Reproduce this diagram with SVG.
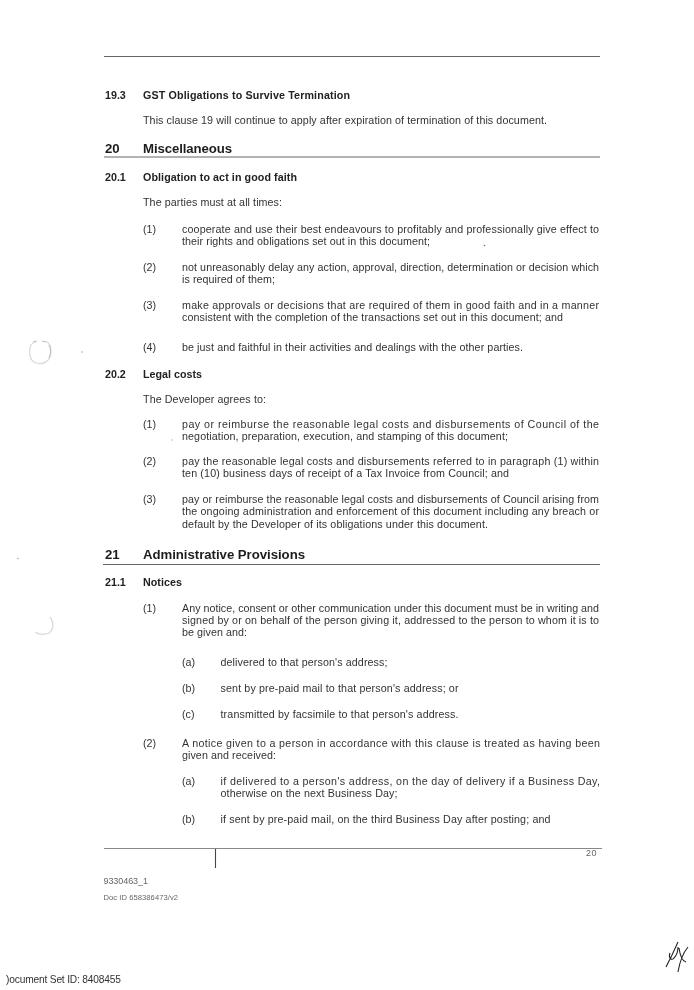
<svg xmlns="http://www.w3.org/2000/svg" width="694" height="990" viewBox="0 0 694 990">
<defs><style>
text{font-family:"Liberation Sans",Arial,sans-serif;font-size:10.7px;fill:#333}
.b{font-weight:bold;fill:#222}
.h{font-weight:bold;font-size:13.2px;fill:#1f1f1f}
.r{stroke:#666;stroke-width:1;fill:none}
.s{font-size:7.6px;fill:#666}
.f{font-size:9px;fill:#666}
.m{fill:none;stroke:#d8d8d8;stroke-width:1.2}
</style>
<filter id="soft" x="0" y="0" width="694" height="990" filterUnits="userSpaceOnUse"><feGaussianBlur stdDeviation="0.4"/></filter>
</defs>
<rect width="694" height="990" fill="#fff"/>
<g filter="url(#soft)">
<g id="rules">
<path class="r" d="M104 56.500H600"/>
<path class="r" d="M104 157H600"/>
<path class="r" d="M103 564.500H600"/>
<path class="r" style="stroke:#888" d="M104 848.500H602"/>
<path class="r" style="stroke:#444;stroke-width:1.1" d="M215.500 849V868"/>
</g>
<g id="clause-19-3">
<text class="b" x="105" y="99">19.3</text>
<text class="b" x="143" y="99" textLength="207">GST Obligations to Survive Termination</text>
<text x="143" y="124" textLength="404">This clause 19 will continue to apply after expiration of termination of this document.</text>
</g>
<g id="clause-20">
<text class="h" x="105" y="153">20</text>
<text class="h" x="143" y="153" textLength="89">Miscellaneous</text>
</g>
<g id="clause-20-1">
<text class="b" x="105" y="181">20.1</text>
<text class="b" x="143" y="181" textLength="154">Obligation to act in good faith</text>
<text x="143" y="206" textLength="139">The parties must at all times:</text>
<text x="143" y="233">(1)</text>
<text x="182" y="233" textLength="417">cooperate and use their best endeavours to profitably and professionally give effect to</text>
<text x="182" y="245" textLength="248">their rights and obligations set out in this document;</text>
<text x="143" y="271">(2)</text>
<text x="182" y="271" textLength="417">not unreasonably delay any action, approval, direction, determination or decision which</text>
<text x="182" y="283" textLength="93">is required of them;</text>
<text x="143" y="309">(3)</text>
<text x="182" y="309" textLength="417">make approvals or decisions that are required of them in good faith and in a manner</text>
<text x="182" y="321" textLength="381">consistent with the completion of the transactions set out in this document; and</text>
<text x="143" y="351">(4)</text>
<text x="182" y="351" textLength="341">be just and faithful in their activities and dealings with the other parties.</text>
</g>
<g id="clause-20-2">
<text class="b" x="105" y="377.500">20.2</text>
<text class="b" x="143" y="377.500" textLength="59">Legal costs</text>
<text x="143" y="403" textLength="123">The Developer agrees to:</text>
<text x="143" y="428">(1)</text>
<text x="182" y="428" textLength="417">pay or reimburse the reasonable legal costs and disbursements of Council of the</text>
<text x="182" y="440" textLength="326">negotiation, preparation, execution, and stamping of this document;</text>
<text x="143" y="465">(2)</text>
<text x="182" y="465" textLength="417">pay the reasonable legal costs and disbursements referred to in paragraph (1) within</text>
<text x="182" y="477" textLength="327">ten (10) business days of receipt of a Tax Invoice from Council; and</text>
<text x="143" y="503">(3)</text>
<text x="182" y="503" textLength="417">pay or reimburse the reasonable legal costs and disbursements of Council arising from</text>
<text x="182" y="515" textLength="417">the ongoing administration and enforcement of this document including any breach or</text>
<text x="182" y="528" textLength="306">default by the Developer of its obligations under this document.</text>
</g>
<g id="clause-21">
<text class="h" x="105" y="559">21</text>
<text class="h" x="143" y="559" textLength="162">Administrative Provisions</text>
</g>
<g id="clause-21-1">
<text class="b" x="105" y="586">21.1</text>
<text class="b" x="143" y="586" textLength="39">Notices</text>
<text x="143" y="612">(1)</text>
<text x="182" y="612" textLength="417">Any notice, consent or other communication under this document must be in writing and</text>
<text x="182" y="624" textLength="417">signed by or on behalf of the person giving it, addressed to the person to whom it is to</text>
<text x="182" y="636" textLength="65">be given and:</text>
<text x="182" y="665.500">(a)</text>
<text x="220.500" y="665.500" textLength="167">delivered to that person's address;</text>
<text x="182" y="692">(b)</text>
<text x="220.500" y="692" textLength="238">sent by pre-paid mail to that person's address; or</text>
<text x="182" y="718">(c)</text>
<text x="220.500" y="718" textLength="238">transmitted by facsimile to that person's address.</text>
<text x="143" y="747">(2)</text>
<text x="182" y="747" textLength="418">A notice given to a person in accordance with this clause is treated as having been</text>
<text x="182" y="759" textLength="94">given and received:</text>
<text x="182" y="785">(a)</text>
<text x="220.500" y="785" textLength="379.500">if delivered to a person's address, on the day of delivery if a Business Day,</text>
<text x="220.500" y="797" textLength="177">otherwise on the next Business Day;</text>
<text x="182" y="823">(b)</text>
<text x="220.500" y="823" textLength="330">if sent by pre-paid mail, on the third Business Day after posting; and</text>
</g>
<g id="footer">
<text class="f" x="586" y="856" textLength="10.500">20</text>
<text class="f" x="103.500" y="884" textLength="44.500">9330463_1</text>
<text class="s" x="103.500" y="899.500" textLength="74.500">Doc ID 658386473/v2</text>
<text x="6" y="983" style="font-size:10.2px;fill:#333" textLength="115">)ocument Set ID: 8408455</text>
</g>
<g id="marks">
<path class="m" d="M35 342C28 344 28 358 34 362C42 366 51 362 51 351C51 345 49 343 46 341"/>
<path d="M33 342L37 341M42 341L46 342M49 345C51 349 51 354 49 358" stroke="#bbb" stroke-width="1" fill="none"/>
<path class="m" d="M50 617C54 622 54 629 49 633C45 635 39 635 35 632"/>
<circle cx="82" cy="352" r="0.8" fill="#aaa"/>
<circle cx="18" cy="558.500" r="0.8" fill="#aaa"/>
<circle cx="484.500" cy="245.500" r="0.8" fill="#777"/>
<circle cx="172" cy="440" r="0.8" fill="#bbb"/>
<path d="M678 942L672 955L666 967M670 953C668 958 672 961 674 958C677 955 678 951 678 947M679 948C680 955 682 961 686 962M688 947C683 953 680 960 678 972" fill="none" stroke="#222" stroke-width="1.1"/>
</g>
</g>
</svg>
